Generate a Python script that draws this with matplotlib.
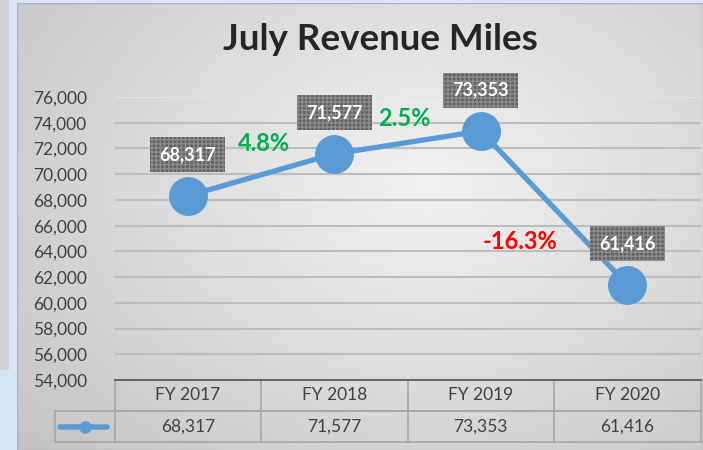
import numpy as np
import matplotlib
matplotlib.use("Agg")
import matplotlib.pyplot as plt
from matplotlib.patches import Rectangle
from matplotlib.transforms import blended_transform_factory

# dados do gráfico
anos = ["FY 2017", "FY 2018", "FY 2019", "FY 2020"]
milhas = [68317, 71577, 73353, 61416]
variacoes = ["4.8%", "2.5%", "-16.3%"]
cores_variacao = ["#00b050", "#00b050", "#ff0000"]
ticks_y = list(range(54000, 76001, 2000))

AZUL = "#5b9bd5"
CINZA_TEXTO = "#404040"

plt.rcParams["font.family"] = ["Lato", "DejaVu Sans"]

W, H = 703, 450
fig = plt.figure(figsize=(W / 100, H / 100), dpi=100)
fig.patch.set_facecolor("#d7e7f6")

# faixa cinza à esquerda e fundo com gradiente radial
fig.patches.append(Rectangle((0, 80 / H), 9 / W, 1 - 80 / H, transform=fig.transFigure,
                             facecolor="#d2d2d2", edgecolor="none", zorder=0))
fundo = fig.add_axes([17 / W, 0, 1 - 17 / W, 1 - 3 / H], zorder=0)
gy, gx = np.mgrid[0:1:300j, 0:1:300j]
r = np.sqrt(((gx - 0.6) / 0.8) ** 2 + ((gy - 0.4) / 0.9) ** 2)
r = np.clip(r, 0, 1)
claro = np.array([0.95, 0.95, 0.95])
escuro = np.array([0.77, 0.77, 0.77])
img = claro[None, None, :] + (escuro - claro)[None, None, :] * r[:, :, None]
fundo.imshow(img, extent=[0, 1, 0, 1], aspect="auto", origin="upper")
fundo.set_axis_off()
fundo.add_patch(Rectangle((0, 0), 1, 1, transform=fundo.transAxes, fill=False,
                          edgecolor="#b0b0b0", linewidth=1))

ax = fig.add_axes([114.5 / W, 1 - 380 / H, (700.5 - 114.5) / W, (380 - 97) / H], zorder=1)
ax.patch.set_alpha(0)
x = np.arange(len(anos))
ax.set_xlim(-0.5, len(anos) - 0.5)
ax.set_ylim(ticks_y[0], ticks_y[-1])
ax.set_yticks(ticks_y)
ax.set_yticklabels([f"{v:,}" for v in ticks_y], fontsize=12.5, color=CINZA_TEXTO)
ax.set_xticks([])
ax.tick_params(axis="y", length=0, pad=20)
for lado in ["top", "right", "left"]:
    ax.spines[lado].set_visible(False)
ax.spines["bottom"].set_color("#595959")
ax.spines["bottom"].set_linewidth(1.3)

for v in ticks_y[1:]:
    cor = "#e4e4e4" if v == ticks_y[-1] else "#bdbdbd"
    ax.axhline(v, color=cor, linewidth=1.5, zorder=1)

ax.plot(x, milhas, color=AZUL, linewidth=3.8, marker="o", markersize=27,
        zorder=3, solid_capstyle="round")

# rótulos de valor em caixas escuras
for xi, v in zip(x, milhas):
    ax.annotate(f"{v:,}", (xi, v), xytext=(0, 41), textcoords="offset pixels",
                ha="center", va="center", fontsize=13, fontweight="bold", color="white",
                zorder=5, annotation_clip=False,
                bbox=dict(boxstyle="square,pad=0.5", facecolor="#626262",
                          edgecolor="#8c8c8c", linewidth=0, hatch="++++"))

# variação percentual entre anos
pos_variacao = [(0.52, 72420), (1.48, 74290), (2.27, 64800)]
for txt, cor, (px, py) in zip(variacoes, cores_variacao, pos_variacao):
    ax.text(px, py, txt, ha="center", va="center", fontsize=17, fontweight="bold",
            color=cor, zorder=5, clip_on=False)

fig.text(380 / W, 1 - 40 / H, "July Revenue Miles", ha="center", va="center",
         fontsize=26.5, fontweight="bold", color="#262626")

# tabela de dados abaixo do eixo
tr = blended_transform_factory(ax.transData, ax.transAxes)
linha_h = 31 / (380 - 97)
cor_tab = "#a6a6a6"
esq_chave = -0.5 - 60 / 147
fim = len(anos) - 0.5
ax.plot([-0.5, fim], [-linha_h, -linha_h], color=cor_tab, lw=1.2, transform=tr, clip_on=False)
ax.plot([esq_chave, fim], [-linha_h, -linha_h], color=cor_tab, lw=1.2, transform=tr, clip_on=False)
ax.plot([esq_chave, fim], [-2 * linha_h, -2 * linha_h], color=cor_tab, lw=1.2, transform=tr,
        clip_on=False)
for xb in np.arange(-0.5, len(anos), 1.0):
    ax.plot([xb, xb], [0, -2 * linha_h], color=cor_tab, lw=1.2, transform=tr, clip_on=False)
ax.plot([esq_chave, esq_chave], [-linha_h, -2 * linha_h], color=cor_tab, lw=1.2, transform=tr,
        clip_on=False)
for xi, ano, v in zip(x, anos, milhas):
    ax.text(xi, -0.5 * linha_h, ano, ha="center", va="center", fontsize=12.5,
            color=CINZA_TEXTO, transform=tr)
    ax.text(xi, -1.5 * linha_h, f"{v:,}", ha="center", va="center", fontsize=12.5,
            color=CINZA_TEXTO, transform=tr)
meio_chave = (esq_chave - 0.5) / 2
ax.plot([esq_chave + 0.035, -0.5 - 0.05], [-1.5 * linha_h] * 2, color=AZUL, lw=4,
        transform=tr, clip_on=False, solid_capstyle="round")
ax.plot([meio_chave], [-1.5 * linha_h], marker="o", markersize=8, color=AZUL,
        transform=tr, clip_on=False)

fig.savefig("out.png", dpi=100)
